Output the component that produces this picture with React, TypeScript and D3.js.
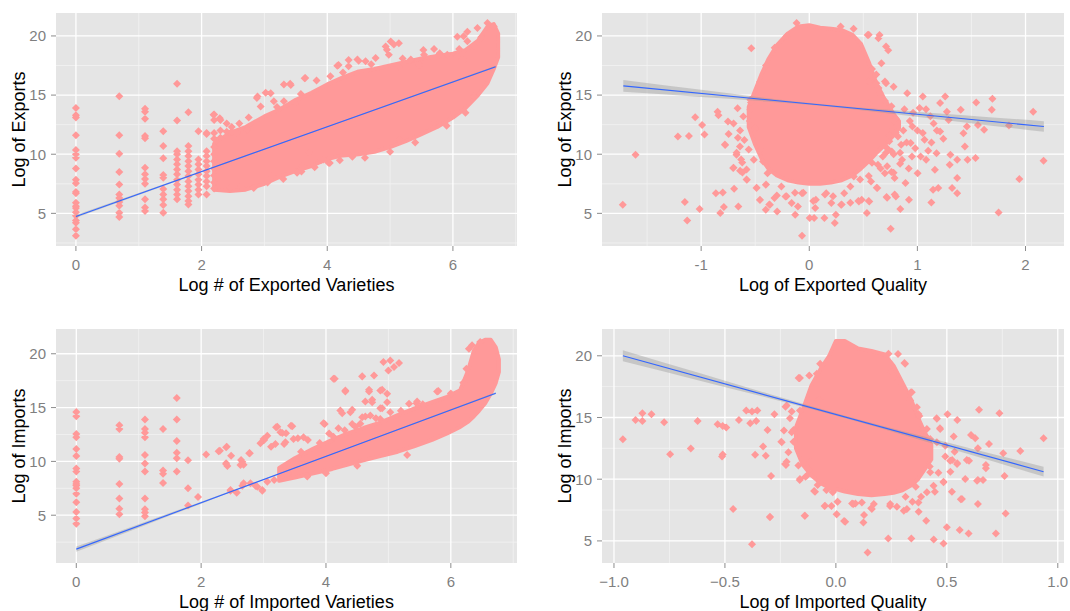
import * as d3 from 'd3';

type Pt = [number, number];
type Col = [number, number[]];
type Slice = [number, number, number];
type Half = [number, number];

// ---- top left: exports vs exported varieties ----
const expVarColumns: Col[] = [
  [0, [13.9, 13.3, 13.1, 11.6, 10.35, 10.0, 9.7, 8.8, 7.85, 7.55, 6.8, 6.7, 5.9, 5.6, 5.45, 5.1, 4.8, 4.4, 4.2, 3.65, 3.1]],
  [0.69, [14.9, 11.6, 10.05, 8.5, 7.45, 6.6, 6.3, 5.95, 5.65, 5.05, 4.7]],
  [1.1, [13.85, 13.6, 13.0, 11.55, 11.35, 8.85, 8.3, 7.9, 7.5, 6.2, 5.5, 5.2]],
  [1.39, [11.95, 10.7, 9.65, 8.25, 8.0, 7.05, 6.6, 6.2, 5.7, 5.05]],
  [1.61, [15.95, 12.85, 10.25, 10.0, 9.55, 9.15, 8.7, 8.3, 7.85, 7.45, 7.0, 6.6, 6.2]],
  [1.79, [13.55, 10.7, 10.25, 9.85, 9.4, 9.0, 8.55, 8.15, 7.7, 7.3, 6.9, 6.45, 6.05, 5.75]],
  [1.95, [11.95, 9.55, 9.15, 8.7, 8.3, 7.85, 7.45, 7.0, 6.6]],
  [2.08, [11.8, 10.25, 9.85, 9.4, 9.0, 8.55, 8.15, 7.7, 7.3, 6.6]],
  [2.2, [13.35, 12.9, 11.8, 11.3, 10.6, 10.0, 9.4, 8.8, 8.2, 7.6, 7.1]],
  [2.3, [12.9, 12.0, 11.4]],
  [2.4, [12.6, 11.9]],
  [2.48, [12.3, 11.9]],
];
const expVarPoints: Pt[] = [
  [2.88, 14.76], [3.02, 15.19], [3.15, 14.48], [3.31, 15.89], [3.41, 15.95], [3.65, 16.45], [3.83, 16.23],
  [3.49, 14.34], [3.31, 14.48], [4.16, 17.49], [4.34, 17.44], [4.48, 18.0], [4.61, 17.86], [4.77, 18.14],
  [4.95, 18.84], [5.06, 19.27], [4.98, 18.42], [5.14, 17.44], [5.33, 18.0], [5.54, 18.42], [5.78, 18.42],
  [5.91, 18.42], [6.07, 18.28], [6.17, 19.97], [6.23, 19.55], [6.33, 19.13], [6.39, 20.68], [6.55, 21.1],
  [6.65, 20.8], [2.56, 11.81], [2.72, 12.09], [3.71, 10.12], [3.94, 9.55], [4.02, 9.27], [4.4, 9.78],
  [2.83, 7.16], [3.12, 8.15], [3.52, 8.43], [3.6, 9.0], [2.46, 7.16], [2.62, 7.3],
  [5.01, 19.52], [5.14, 19.38], [4.93, 19.1], [4.18, 17.55], [4.34, 17.97], [4.5, 17.9], [3.64, 16.43],
  [3.83, 16.23], [3.42, 15.86], [3.1, 15.16], [2.89, 14.87], [2.94, 14.03], [2.19, 13.33], [2.29, 13.05],
  [2.08, 11.72], [2.83, 7.14], [4.04, 9.25], [3.91, 9.53], [4.4, 9.8], [3.59, 8.54], [5.15, 11.22],
  [5.69, 12.63], [6.01, 13.47], [6.33, 14.87], [6.07, 19.94], [6.23, 20.36], [6.17, 17.97], [5.79, 18.54],
  [5.53, 18.82], [5.47, 17.55], [2.6, 12.6], [2.75, 13.1], [3.2, 14.0], [3.58, 15.1], [4.05, 16.6],
  [4.25, 16.9], [4.7, 17.6], [5.2, 18.1], [5.7, 18.9], [6.1, 18.9], [6.45, 19.9], [3.05, 7.6],
  [3.3, 7.9], [3.8, 8.9], [4.2, 9.5], [4.6, 9.7], [5.0, 10.2], [5.4, 11.0], [5.9, 12.4], [6.2, 13.5],
];
const expVarCore: Slice[] = [
  [2.2, 7.0, 10.9], [2.45, 6.9, 11.8], [2.7, 7.0, 12.3], [3.0, 7.5, 13.2], [3.25, 8.1, 13.8],
  [3.5, 8.6, 14.6], [3.75, 9.0, 15.2], [4.0, 9.6, 15.9], [4.25, 9.9, 16.5], [4.5, 10.0, 17.0],
  [4.75, 10.2, 17.2], [5.0, 10.6, 17.5], [5.25, 11.1, 17.8], [5.5, 11.7, 18.1], [5.75, 12.3, 18.3],
  [6.0, 13.1, 18.5], [6.2, 13.9, 18.8], [6.4, 15.0, 19.6], [6.55, 16.0, 20.8], [6.65, 17.2, 21.0],
  [6.72, 18.2, 20.2],
];
const expVarFit: Pt[] = [[0, 4.74], [6.68, 17.4]];
const expVarBand: Half[] = [[0, 0.12], [2, 0.06], [4, 0.03], [6.68, 0.07]];

// ---- top right: exports vs exported quality ----
const expQualPoints: Pt[] = [
  [-1.725, 5.73], [-1.607, 9.95], [-1.215, 11.5], [-1.113, 11.55], [-1.151, 5.95], [-1.129, 4.4],
  [-1.055, 13.13], [-0.991, 12.46], [-0.969, 11.66], [-1.014, 5.36], [-0.864, 6.71], [-0.8, 6.76],
  [-0.823, 5.02], [-0.79, 5.53], [-0.848, 13.6], [-0.84, 13.3], [-0.778, 10.79], [-0.752, 12.76],
  [-0.746, 11.7], [-0.704, 8.83], [-0.695, 7.08], [-0.656, 5.58], [-0.663, 13.89], [-0.673, 9.95],
  [-0.641, 10.65], [-0.618, 8.45], [-0.577, 7.84], [-0.545, 14.6], [-0.536, 18.96], [-0.513, 9.53],
  [-0.488, 7.14], [-0.456, 6.15], [-0.427, 9.39], [-0.402, 7.42], [-0.402, 5.3], [-0.386, 8.4],
  [-0.364, 5.73], [-0.322, 6.29], [-0.297, 5.16], [-0.258, 7.27], [-0.22, 6.43], [-0.163, 5.87],
  [-0.13, 4.88], [-0.105, 5.58], [-0.067, 3.11], [-0.067, 6.71], [0.004, 4.6], [0.045, 4.6],
  [0.055, 5.45], [0.061, 6.15], [0.14, 4.6], [0.157, 6.71], [0.204, 5.87], [0.236, 4.18], [0.246, 4.88],
  [0.294, 5.73], [0.323, 6.71], [0.38, 7.27], [0.412, 8.12], [0.459, 6.0], [0.485, 6.15], [0.533, 5.02],
  [0.555, 6.0], [0.571, 7.7], [0.629, 7.14], [0.635, 9.1], [0.699, 8.4], [0.715, 6.38], [0.753, 3.7],
  [0.763, 10.23], [0.789, 7.98], [0.801, 6.43], [0.842, 5.36], [0.858, 9.53], [0.89, 7.56], [0.922, 6.15],
  [0.906, 15.16], [0.938, 10.94], [0.954, 12.34], [1.002, 8.4], [1.05, 14.87], [1.066, 11.22],
  [1.081, 9.53], [1.129, 5.92], [1.145, 6.99], [1.162, 8.68], [1.177, 10.09], [1.193, 7.14], [1.21, 14.32],
  [1.21, 11.92], [1.257, 14.87], [1.273, 13.6], [1.289, 12.9], [1.299, 9.1], [1.305, 9.95], [1.321, 7.14],
  [1.368, 6.71], [1.368, 7.98], [1.368, 9.53], [1.401, 13.75], [1.426, 11.78], [1.439, 10.65],
  [1.458, 12.34], [1.464, 9.53], [1.544, 14.37], [1.538, 9.67], [1.56, 12.48], [1.617, 12.06],
  [1.694, 14.68], [1.688, 13.75], [1.751, 5.08], [1.847, 12.42], [1.943, 7.9], [2.071, 13.6], [2.167, 9.44],
  [0.65, 15.2], [0.7, 14.5], [0.75, 12.5], [0.8, 13.0], [0.82, 11.5], [0.87, 12.0], [0.9, 11.0],
  [0.95, 9.8], [0.72, 10.5], [0.68, 9.8], [0.78, 10.0], [0.85, 10.8], [0.93, 12.8], [1.0, 12.0],
  [1.05, 11.8], [1.08, 13.8], [1.12, 13.2], [1.15, 12.6], [0.62, 16.0], [0.58, 17.2], [0.54, 20.08],
  [0.65, 20.08], [0.73, 18.8], [0.667, 17.7], [0.7, 16.14], [0.78, 15.7], [-0.61, 13.18], [-0.5, 12.2],
  [-0.7, 12.6], [-0.64, 12.0], [-0.545, 13.75], [-0.45, 10.37], [-0.48, 11.2], [0.98, 10.5], [1.03, 9.8],
  [1.1, 10.3], [1.13, 11.0], [1.18, 12.0], [1.24, 11.3], [0.88, 13.8], [0.96, 13.5], [1.02, 13.9],
  [0.74, 11.6], [0.84, 9.2], [0.92, 8.8], [0.66, 8.8], [0.76, 8.5], [-0.6, 11.2], [-0.56, 10.4],
  [-0.62, 9.3], [-0.55, 12.8], [-0.66, 11.4], [-0.58, 8.7],
  [-0.78, 10.82], [-0.672, 10.12], [-0.63, 9.55], [-0.7, 8.85], [-0.64, 8.6], [-0.58, 7.86],
  [-0.487, 7.16], [-0.4, 7.44], [-0.456, 6.12], [-0.37, 5.75], [-0.3, 6.51], [-0.21, 6.45],
  [-0.132, 6.74], [-0.055, 6.74], [0.037, 6.04], [0.145, 6.6], [0.22, 6.45], [0.3, 5.75], [0.38, 5.9],
  [0.454, 6.04], [0.55, 6.04], [0.624, 7.16], [0.72, 6.33], [0.79, 6.6], [0.55, 8.15], [0.47, 7.86],
  [0.58, 9.27], [0.72, 8.99], [0.78, 8.43], [0.71, 10.12], [0.84, 10.12], [0.74, 11.1], [0.8, 11.81],
  [0.69, 13.2], [0.76, 14.05], [0.55, 16.16], [0.64, 15.6], [0.71, 16.0], [0.55, 14.3], [0.62, 16.73],
  [0.71, 19.1], [0.64, 19.8], [0.55, 20.1], [0.41, 20.6], [0.29, 20.8], [-0.117, 21.1], [-0.21, 19.97],
  [-0.32, 19.0], [-0.4, 17.5], [-0.456, 16.1], [-0.47, 14.85], [-0.54, 14.4],
];
const expQualCore: Slice[] = [
  [-0.56, 12.3, 14.0], [-0.5, 10.8, 15.4], [-0.44, 9.6, 16.8], [-0.38, 8.8, 18.0], [-0.3, 8.2, 19.2],
  [-0.2, 7.8, 20.2], [-0.1, 7.6, 20.8], [0.0, 7.5, 20.9], [0.1, 7.5, 20.7], [0.2, 7.6, 20.6],
  [0.3, 7.8, 20.5], [0.4, 8.2, 20.1], [0.48, 8.8, 19.3], [0.55, 9.4, 17.8], [0.62, 10.1, 16.0],
  [0.7, 10.8, 14.6], [0.78, 11.6, 13.4], [0.83, 12.2, 12.8],
];
const expQualFit: Pt[] = [[-1.72, 15.78], [2.17, 12.34]];
const expQualBand: Half[] = [[-1.72, 0.5], [-1.0, 0.3], [-0.4, 0.15], [0.1, 0.08], [0.7, 0.15], [1.4, 0.3], [2.17, 0.45]];

// ---- bottom left: imports vs imported varieties ----
const impVarColumns: Col[] = [
  [0, [14.6, 14.2, 12.55, 12.25, 11.15, 10.5, 9.35, 9.05, 8.1, 7.9, 7.75, 7.5, 7.0, 6.2, 5.3, 4.7, 4.2]],
  [0.69, [13.35, 13.0, 10.4, 10.25, 7.9, 6.55, 5.6, 5.1]],
  [1.1, [13.9, 13.0, 12.65, 12.25, 10.6, 9.8, 9.05, 6.55, 5.55, 5.25, 4.9]],
  [1.39, [13.0, 9.15, 8.85, 8.0]],
  [1.61, [15.9, 13.9, 11.9, 10.8, 10.3, 9.05]],
  [1.79, [10.1, 7.5, 5.9]],
  [1.95, [6.7]],
  [2.08, [10.65]],
];
const impVarPoints: Pt[] = [
  [2.28, 10.94], [2.4, 11.31], [2.48, 10.53], [2.4, 9.76], [2.64, 10.13], [2.68, 9.69], [2.77, 10.75],
  [2.47, 7.27], [2.57, 7.12], [2.66, 7.74], [2.87, 7.74], [2.98, 7.34], [3.0, 12.09], [3.06, 12.39],
  [3.2, 13.17], [3.19, 11.62], [3.3, 12.64],
  [4.14, 17.67], [4.31, 16.58], [3.98, 13.48], [4.12, 12.3], [4.26, 14.48], [4.42, 14.79], [4.58, 17.89],
  [4.69, 16.65], [4.74, 15.72], [4.9, 14.94], [4.9, 16.65], [4.8, 14.01], [4.63, 14.16], [5.8, 16.55],
  [5.45, 15.41], [4.47, 13.23], [4.2, 13.08], [3.71, 11.99], [3.55, 12.15], [3.44, 13.3], [3.22, 13.23],
  [3.36, 12.61], [3.12, 11.37], [3.01, 11.99], [2.95, 11.68], [3.33, 11.62], [2.78, 10.75], [2.66, 9.97],
  [2.63, 9.67], [2.41, 11.37], [2.3, 11.0], [2.4, 9.82], [2.42, 9.57],
  [2.47, 7.34], [2.57, 7.09], [2.68, 7.96], [2.79, 7.96], [2.9, 7.65], [2.98, 7.27], [3.06, 8.11],
  [3.17, 8.27], [3.28, 8.58], [3.39, 8.89],
  [3.27, 12.71], [3.35, 11.78], [3.46, 13.27], [3.48, 12.09], [3.64, 12.24], [3.96, 13.55], [4.12, 17.67],
  [4.31, 16.49], [4.23, 14.72], [4.39, 14.57], [4.42, 13.48], [4.58, 17.92], [4.77, 17.98], [4.69, 16.49],
  [4.63, 15.56], [4.74, 15.5], [4.58, 14.1], [4.71, 14.26], [4.87, 14.94], [4.87, 16.58], [4.98, 16.28],
  [4.92, 19.23], [5.0, 18.45], [5.09, 18.76], [5.17, 19.13], [5.03, 19.38], [4.98, 15.5], [4.87, 13.95],
  [5.03, 14.57], [5.33, 15.35], [5.46, 15.56], [5.78, 16.49], [5.57, 14.88], [6.29, 20.47], [6.34, 20.78],
  [6.47, 21.1], [3.6, 10.9], [3.9, 11.7], [4.05, 12.6], [4.3, 12.9], [4.55, 13.5], [5.2, 14.7],
  [5.55, 15.3], [6.0, 16.3], [6.2, 17.3], [6.25, 18.6], [3.7, 8.6], [4.0, 8.9], [4.5, 9.6], [5.3, 10.6],
];
const impVarCore: Slice[] = [
  [3.25, 8.2, 9.4], [3.5, 8.5, 10.3], [3.8, 8.9, 11.2], [4.1, 9.3, 12.0], [4.35, 9.7, 12.6],
  [4.6, 10.1, 13.1], [4.87, 10.5, 13.6], [5.15, 10.9, 14.3], [5.41, 11.4, 14.9], [5.7, 12.0, 15.5],
  [5.94, 12.6, 16.0], [6.15, 13.2, 16.6], [6.28, 13.7, 18.5], [6.37, 14.2, 20.3], [6.45, 14.7, 21.0],
  [6.55, 15.4, 21.3], [6.64, 16.3, 21.3], [6.72, 17.3, 20.6], [6.77, 18.3, 19.5],
];
const impVarFit: Pt[] = [[0, 1.85], [6.72, 16.34]];
const impVarBand: Half[] = [[0, 0.25], [1, 0.16], [2, 0.09], [3, 0.05], [4.5, 0.04], [6.72, 0.08]];

// ---- bottom right: imports vs imported quality ----
const impQualPoints: Pt[] = [
  [-0.96, 13.24], [-0.903, 14.8], [-0.872, 15.35], [-0.872, 14.72], [-0.831, 15.27], [-0.774, 14.62],
  [-0.747, 12.02], [-0.654, 12.48], [-0.623, 14.72], [-0.533, 14.46], [-0.51, 14.32], [-0.494, 14.18],
  [-0.513, 11.83], [-0.51, 12.0], [-0.463, 7.58], [-0.437, 14.8], [-0.404, 15.56], [-0.378, 15.48],
  [-0.354, 15.56], [-0.386, 14.54], [-0.359, 14.72], [-0.378, 4.72], [-0.364, 11.99], [-0.328, 12.64],
  [-0.316, 11.91], [-0.308, 13.99], [-0.292, 10.26], [-0.297, 6.96], [-0.277, 15.27], [-0.246, 13.04],
  [-0.227, 15.88], [-0.222, 11.42], [-0.225, 11.15], [-0.207, 14.94], [-0.191, 13.99], [-0.191, 13.04],
  [-0.168, 18.19], [-0.163, 9.93], [-0.141, 7.04], [-0.137, 10.2], [-0.121, 10.75], [-0.116, 11.4],
  [-0.098, 9.04], [-0.082, 9.53], [-0.075, 16.43], [-0.051, 7.82], [-0.043, 9.12], [-0.02, 7.82],
  [-0.013, 8.99], [0.003, 7.15], [0.008, 8.17], [0.037, 6.61], [0.073, 8.04], [0.088, 8.04], [0.124, 6.5],
  [0.127, 7.09], [0.143, 4.07], [0.159, 7.64], [0.171, 7.99], [0.236, 5.2], [0.244, 7.82], [0.275, 7.77],
  [0.28, 20.14], [0.309, 19.41], [0.306, 7.45], [0.314, 8.58], [0.337, 17.02], [0.34, 5.2], [0.345, 8.17],
  [0.36, 9.39], [0.36, 15.75], [0.373, 7.37], [0.376, 15.13], [0.384, 8.58], [0.392, 13.99], [0.407, 6.63],
  [0.405, 13.45], [0.423, 11.02], [0.441, 5.12], [0.446, 8.99], [0.454, 14.94], [0.469, 14.13],
  [0.462, 10.53], [0.485, 4.8], [0.485, 9.8], [0.493, 11.83], [0.503, 15.27], [0.5, 6.1], [0.516, 10.61],
  [0.524, 11.56], [0.531, 13.45], [0.535, 12.23], [0.547, 14.8], [0.547, 11.29], [0.558, 5.88],
  [0.563, 8.37], [0.583, 10.02], [0.59, 11.56], [0.6, 11.5], [0.598, 5.61], [0.609, 13.59], [0.628, 13.32],
  [0.64, 12.51], [0.64, 9.93], [0.645, 15.62], [0.64, 7.99], [0.663, 9.93], [0.676, 10.88], [0.676, 11.15],
  [0.69, 12.86], [0.721, 5.61], [0.737, 15.35], [0.754, 12.1], [0.76, 10.26], [0.765, 7.23], [0.831, 12.29],
  [0.936, 13.32],
  [-0.162, 18.19], [-0.12, 18.4], [-0.086, 18.54], [-0.071, 19.35], [-0.079, 16.37], [-0.222, 15.97],
  [-0.199, 15.48], [-0.162, 15.56], [-0.234, 13.94], [-0.244, 13.0], [-0.199, 13.81], [-0.214, 12.18],
  [-0.229, 11.23], [-0.169, 11.1], [-0.162, 10.02], [-0.131, 10.28], [-0.094, 8.99], [-0.041, 9.15],
  [-0.049, 7.85], [-0.014, 8.94], [0.007, 8.17], [0.004, 7.17], [0.042, 6.55], [-0.139, 7.04], [-0.297, 6.91],
  [0.237, 20.16], [0.312, 19.35], [0.252, 18.68], [0.282, 18.0], [0.342, 17.05], [0.335, 16.37],
  [0.365, 15.83], [0.372, 15.29], [0.41, 14.07], [0.425, 13.26], [0.455, 14.89], [0.47, 14.07],
  [0.455, 13.0], [0.493, 12.72], [0.515, 11.5], [0.546, 11.23], [0.583, 10.02], [0.636, 9.88],
  [0.568, 8.39], [0.523, 8.99], [0.485, 9.75], [0.425, 10.56], [0.44, 9.47], [0.41, 8.94], [0.372, 8.12],
  [0.32, 7.58], [0.245, 7.99], [0.162, 7.58], [0.117, 8.12], [0.079, 7.99],
];
const impQualCore: Slice[] = [
  [-0.18, 12.5, 14.2], [-0.15, 11.2, 15.6], [-0.11, 10.3, 17.6], [-0.07, 9.7, 18.9], [-0.03, 9.3, 20.0],
  [0.0, 9.2, 21.2], [0.04, 9.0, 21.2], [0.1, 8.8, 20.6], [0.16, 8.7, 20.4], [0.22, 8.8, 20.1],
  [0.26, 8.9, 19.2], [0.3, 9.1, 17.8], [0.34, 9.5, 16.4], [0.37, 10.0, 15.0], [0.4, 10.8, 13.8],
  [0.43, 11.6, 12.8],
];
const impQualFit: Pt[] = [[-0.96, 20.0], [0.936, 10.61]];
const impQualBand: Half[] = [[-0.96, 0.45], [-0.6, 0.3], [-0.3, 0.17], [0.05, 0.1], [0.3, 0.15], [0.6, 0.26], [0.936, 0.4]];

const yTicks = [5, 10, 15, 20];
const yMinor = [2.5, 7.5, 12.5, 17.5];

const PINK = '#FF9999';
const FONT = '"Liberation Sans", Arial, sans-serif';

type PanelCfg = {
  id: string;
  box: { x: number; y: number; w: number; h: number };
  xDomain: [number, number];
  yDomain: [number, number];
  xTicks: number[];
  xMinor: number[];
  fmt: (d: number) => string;
  xTitle: string;
  yTitle: string;
  columns: Col[];
  points: Pt[];
  core: Slice[];
  fit: Pt[];
  band: Half[];
};

const panels: PanelCfg[] = [
  {
    id: 'ev', box: { x: 56, y: 13, w: 461, h: 233 }, xDomain: [-0.317, 7.02], yDomain: [2.24, 21.94],
    xTicks: [0, 2, 4, 6], xMinor: [1, 3, 5, 7], fmt: (d) => String(d),
    xTitle: 'Log # of Exported Varieties', yTitle: 'Log of Exports',
    columns: expVarColumns, points: expVarPoints, core: expVarCore, fit: expVarFit, band: expVarBand,
  },
  {
    id: 'eq', box: { x: 602, y: 13, w: 462, h: 233 }, xDomain: [-1.917, 2.356], yDomain: [2.24, 21.94],
    xTicks: [-1, 0, 1, 2], xMinor: [-1.5, -0.5, 0.5, 1.5], fmt: (d) => String(d),
    xTitle: 'Log of Exported Quality', yTitle: 'Log of Exports',
    columns: [], points: expQualPoints, core: expQualCore, fit: expQualFit, band: expQualBand,
  },
  {
    id: 'iv', box: { x: 56, y: 329, w: 461, h: 234 }, xDomain: [-0.325, 7.06], yDomain: [0.56, 22.3],
    xTicks: [0, 2, 4, 6], xMinor: [1, 3, 5, 7], fmt: (d) => String(d),
    xTitle: 'Log # of Imported Varieties', yTitle: 'Log of Imports',
    columns: impVarColumns, points: impVarPoints, core: impVarCore, fit: impVarFit, band: impVarBand,
  },
  {
    id: 'iq', box: { x: 602, y: 329, w: 462, h: 234 }, xDomain: [-1.054, 1.028], yDomain: [3.21, 22.17],
    xTicks: [-1, -0.5, 0, 0.5, 1], xMinor: [-0.75, -0.25, 0.25, 0.75], fmt: d3.format('.1f'),
    xTitle: 'Log of Imported Quality', yTitle: 'Log of Imports',
    columns: [], points: impQualPoints, core: impQualCore, fit: impQualFit, band: impQualBand,
  },
];

function Panel({ cfg }: { cfg: PanelCfg }) {
  const { box } = cfg;
  const x = d3.scaleLinear().domain(cfg.xDomain).range([box.x, box.x + box.w]);
  const y = d3.scaleLinear().domain(cfg.yDomain).range([box.y + box.h, box.y]);
  const inY = (v: number) => v >= cfg.yDomain[0] && v <= cfg.yDomain[1];

  const all: Pt[] = [
    ...cfg.points,
    ...cfg.columns.flatMap(([cx, ys]) => ys.map((v) => [cx, v] as Pt)),
  ];
  const r = 4;
  const diamonds = all
    .map(([a, b]) => {
      const px = x(a), py = y(b);
      return `M${px},${py - r}L${px + r},${py}L${px},${py + r}L${px - r},${py}Z`;
    })
    .join('');

  // dense part of the cloud, where the diamonds overlap completely
  const coreArea = d3.area<Slice>()
    .x((d) => x(d[0]))
    .y0((d) => y(d[1]))
    .y1((d) => y(d[2]));

  const fitY = d3.scaleLinear()
    .domain([cfg.fit[0][0], cfg.fit[1][0]])
    .range([cfg.fit[0][1], cfg.fit[1][1]]);
  const bandArea = d3.area<Half>()
    .x((d) => x(d[0]))
    .y0((d) => y(fitY(d[0]) - d[1]))
    .y1((d) => y(fitY(d[0]) + d[1]))
    .curve(d3.curveMonotoneX);
  const fitLine = d3.line<Pt>().x((d) => x(d[0])).y((d) => y(d[1]));

  const bottom = box.y + box.h;
  const cy = box.y + box.h / 2;

  return (
    <g>
      <defs>
        <clipPath id={`clip-${cfg.id}`}>
          <rect x={box.x} y={box.y} width={box.w} height={box.h} />
        </clipPath>
      </defs>
      <rect x={box.x} y={box.y} width={box.w} height={box.h} fill="#E5E5E5" />
      <g clipPath={`url(#clip-${cfg.id})`}>
        {cfg.xMinor.map((t) => (
          <line key={`xm${t}`} x1={x(t)} x2={x(t)} y1={box.y} y2={bottom} stroke="#F2F2F2" strokeWidth={0.8} />
        ))}
        {yMinor.filter(inY).map((t) => (
          <line key={`ym${t}`} x1={box.x} x2={box.x + box.w} y1={y(t)} y2={y(t)} stroke="#F2F2F2" strokeWidth={0.8} />
        ))}
        {cfg.xTicks.map((t) => (
          <line key={`xg${t}`} x1={x(t)} x2={x(t)} y1={box.y} y2={bottom} stroke="#FFFFFF" strokeWidth={1.3} />
        ))}
        {yTicks.map((t) => (
          <line key={`yg${t}`} x1={box.x} x2={box.x + box.w} y1={y(t)} y2={y(t)} stroke="#FFFFFF" strokeWidth={1.3} />
        ))}
        <path d={coreArea(cfg.core) || ''} fill={PINK} stroke={PINK} strokeWidth={4} strokeLinejoin="round" />
        <path d={diamonds} fill={PINK} />
        <path d={bandArea(cfg.band) || ''} fill="#999999" fillOpacity={0.4} />
        <path d={fitLine(cfg.fit) || ''} fill="none" stroke="#3366FF" strokeWidth={1.1} />
      </g>
      {cfg.xTicks.map((t) => (
        <g key={`xt${t}`}>
          <line x1={x(t)} x2={x(t)} y1={bottom} y2={bottom + 5} stroke="#8C8C8C" strokeWidth={1} />
          <text x={x(t)} y={bottom + 24} textAnchor="middle" fontSize={15} fill="#7F7F7F" fontFamily={FONT}>
            {cfg.fmt(t)}
          </text>
        </g>
      ))}
      {yTicks.map((t) => (
        <g key={`yt${t}`}>
          <line x1={box.x - 5} x2={box.x} y1={y(t)} y2={y(t)} stroke="#8C8C8C" strokeWidth={1} />
          <text x={box.x - 10} y={y(t)} dy="0.36em" textAnchor="end" fontSize={15} fill="#7F7F7F" fontFamily={FONT}>
            {t}
          </text>
        </g>
      ))}
      <text x={box.x + box.w / 2} y={bottom + 44.5} textAnchor="middle" fontSize={18} fill="#000" fontFamily={FONT}>
        {cfg.xTitle}
      </text>
      <text
        transform={`translate(${box.x - 31},${cy}) rotate(-90)`}
        textAnchor="middle"
        fontSize={18}
        fill="#000"
        fontFamily={FONT}
      >
        {cfg.yTitle}
      </text>
    </g>
  );
}

export default function App() {
  return (
    <svg
      width={1070}
      height={611}
      style={{ position: 'absolute', left: 0, top: 0, background: '#FFFFFF' }}
    >
      <rect width={1070} height={611} fill="#FFFFFF" />
      {panels.map((p) => (
        <Panel key={p.id} cfg={p} />
      ))}
    </svg>
  );
}
